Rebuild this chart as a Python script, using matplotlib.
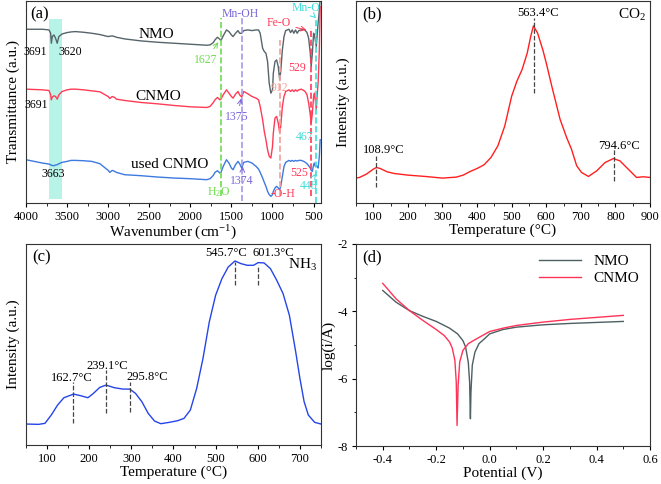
import matplotlib
matplotlib.use('Agg')
from matplotlib import pyplot as plt

plt.rcParams['font.family'] = ['Liberation Serif', 'DejaVu Serif']
plt.rcParams['mathtext.fontset'] = 'stix'
plt.rcParams['axes.unicode_minus'] = False
plt.rcParams['axes.linewidth'] = 0.8

# (a) FTIR, transmittance in a.u.
wn = [4000, 3800, 3720, 3700, 3691, 3680, 3660, 3640, 3620, 3600, 3560, 3500, 3450, 3400,
      3300, 3200, 3100, 3000, 2980, 2950, 2920, 2900, 2800, 2600, 2400, 2200, 2000, 1800,
      1760, 1720, 1700, 1670, 1640, 1627, 1600, 1560, 1530, 1500, 1480, 1450, 1420, 1400,
      1375, 1350, 1300, 1250, 1200, 1170, 1150, 1120, 1100, 1080, 1060, 1040, 1020, 1000,
      990, 970, 950, 930, 912, 900, 880, 860, 840, 800, 780, 760, 740, 720, 700, 680, 650,
      620, 600, 580, 560, 540, 529, 515, 500, 490, 480, 467, 455, 445, 430, 420]
nmo_ir = [522, 522, 520, 510, 480, 500, 505, 495, 480, 500, 508, 512, 514, 515,
          513, 510, 506, 500, 501, 502, 500, 498, 493, 487, 483, 480, 477, 474,
          475, 482, 490, 498, 492, 488, 502, 520, 515, 505, 500, 510, 518, 510,
          510, 518, 520, 518, 520, 520, 510, 465, 455, 450, 425, 360, 330, 340,
          390, 425, 430, 410, 370, 395, 460, 500, 518, 522, 512, 520, 510, 520, 510, 518, 520,
          522, 518, 512, 495, 450, 410, 450, 510, 505, 490, 470, 510, 540, 580, 610]
cnmo_ir = [342, 340, 338, 325, 310, 318, 322, 320, 312, 325, 335, 340, 342, 342,
           340, 337, 334, 320, 314, 320, 317, 312, 308, 302, 298, 293, 289, 287,
           290, 302, 310, 317, 310, 312, 325, 340, 330, 320, 315, 327, 335, 325,
           318, 335, 328, 320, 315, 310, 290, 250, 215, 190, 160, 140, 135, 170,
           210, 255, 260, 240, 210, 230, 290, 320, 335, 340, 335, 340, 335, 340, 336, 340, 342,
           338, 334, 325, 300, 265, 240, 270, 320, 330, 310, 280, 330, 360, 460, 590]
used_ir = [130, 120, 117, 115, 113, 113, 112, 114, 115, 118, 122, 125, 128, 128,
           127, 125, 118, 98, 92, 98, 95, 92, 85, 82, 78, 75, 73, 70,
           73, 83, 92, 97, 90, 92, 110, 130, 120, 105, 100, 115, 125, 118,
           105, 122, 125, 120, 110, 102, 92, 75, 62, 50, 35, 25, 20, 25,
           35, 45, 50, 45, 40, 50, 80, 110, 122, 128, 125, 128, 125, 128, 126, 128, 128,
           125, 122, 118, 112, 105, 98, 95, 115, 120, 110, 112, 110, 105, 140, 190]

# (b) CO2-TPD
t_co2 = [50, 60, 80, 100, 109, 120, 140, 160, 200, 250, 300, 340, 360, 380, 400, 420, 440,
         460, 480, 500, 515, 530, 545, 555, 563, 575, 590, 600, 616, 640, 659, 673, 688,
         702, 722, 746, 770, 794, 813, 837, 861, 880, 900]
i_co2 = [75, 77, 87, 102, 107, 104, 94, 89, 84, 80, 75, 78, 84, 95, 104, 115, 137,
         172, 232, 322, 367, 402, 452, 502, 534, 512, 462, 422, 352, 252, 197, 162, 112,
         92, 80, 97, 122, 134, 127, 102, 77, 79, 77]

# (c) NH3-TPD
t_nh3 = [50, 80, 95, 110, 125, 140, 163, 180, 197, 210, 225, 240, 260, 280, 296, 310, 325,
         340, 355, 370, 390, 410, 425, 440, 455, 470, 485, 500, 515, 530, 546, 560, 575,
         590, 601, 615, 630, 645, 660, 675, 690, 700, 710, 720, 735, 750]
i_nh3 = [63, 62, 65, 90, 120, 142, 153, 148, 142, 155, 173, 180, 172, 168, 168, 155, 130,
         95, 72, 64, 68, 73, 80, 105, 170, 260, 370, 450, 500, 535, 553, 545, 540,
         540, 548, 547, 530, 495, 455, 390, 280, 200, 130, 90, 68, 63]

# (d) Tafel
v_nmo = [-0.4, -0.35, -0.3, -0.25, -0.2, -0.15, -0.12, -0.1, -0.09, -0.08, -0.075, -0.072,
         -0.07, -0.065, -0.055, -0.04, -0.02, 0.0, 0.05, 0.1, 0.2, 0.3, 0.4, 0.5]
log_nmo = [-3.38, -3.73, -3.98, -4.15, -4.30, -4.50, -4.67, -4.87, -5.06, -5.51, -6.10, -7.19,
           -6.40, -5.60, -5.21, -4.96, -4.82, -4.67, -4.54, -4.47, -4.40, -4.36, -4.33, -4.30]
v_cnmo = [-0.4, -0.35, -0.3, -0.25, -0.2, -0.17, -0.15, -0.14, -0.13, -0.125, -0.122, -0.118,
          -0.112, -0.1, -0.08, -0.05, 0.0, 0.05, 0.1, 0.2, 0.3, 0.4, 0.5]
log_cnmo = [-3.17, -3.63, -3.98, -4.27, -4.54, -4.72, -4.91, -5.09, -5.46, -6.10, -7.39, -6.20,
            -5.50, -5.16, -4.96, -4.82, -4.60, -4.50, -4.42, -4.32, -4.24, -4.18, -4.12]

green = '#6fdc4f'
purple = '#7b68d8'
red = '#ff3a5a'
pink = '#f4a09a'
cyan = '#40dcd8'
dash_gray = '#444444'

fig = plt.figure(figsize=(6.61, 4.84), dpi=100)
ax_a = fig.add_axes([0.0393, 0.5806, 0.4463, 0.4174])
ax_b = fig.add_axes([0.5386, 0.5806, 0.4448, 0.4174])
ax_c = fig.add_axes([0.0393, 0.0806, 0.4463, 0.4153])
ax_d = fig.add_axes([0.5386, 0.0785, 0.4448, 0.4174])

for ax in [ax_a, ax_b, ax_c, ax_d]:
    ax.tick_params(direction='out', length=3, width=0.8, labelsize=9, pad=3)
    ax.tick_params(which='minor', direction='out', length=1.8, width=0.6)
    for s in ax.spines.values():
        s.set_color('#333333')

# ---- (a)
ax_a.axvspan(3720, 3560, ymin=12/607, ymax=552/607, color='#b8f3e8', lw=0)
ax_a.plot(wn, nmo_ir, color='#56656a', lw=1)
ax_a.plot(wn, cnmo_ir, color='#ff3b56', lw=1)
ax_a.plot(wn, used_ir, color='#3d7ae0', lw=1)
ax_a.vlines(1627, 20, 555, colors=green, linestyles='--', lw=1.2)
ax_a.vlines(1375, 5, 555, colors='#a898e6', linestyles='--', lw=1.2)
ax_a.vlines(912, 20, 490, colors=pink, linestyles='--', lw=1.2)
ax_a.vlines(529, 20, 525, colors=red, linestyles='--', lw=1.2)
ax_a.vlines(467, 0, 555, colors=cyan, linestyles='--', lw=1.2)
ax_a.set_xlim(4000, 410)
ax_a.set_ylim(0, 607)
ax_a.set_xticks([4000, 3500, 3000, 2500, 2000, 1500, 1000, 500])
ax_a.set_xticks(range(3750, 400, -500), minor=True)
ax_a.set_yticks([])
ax_a.set_xlabel('Wavenumber (cm$\\mathregular{^{-1}}$)', fontsize=11, labelpad=0)
ax_a.set_ylabel('Transmittance (a.u.)', fontsize=11, labelpad=4)
ax_a.text(0.015, 0.935, '(a)', transform=ax_a.transAxes, fontsize=12, va='center')
fs = 8.5
ax_a.text(3890, 455, '3691', fontsize=fs, ha='center', va='center')
ax_a.text(3465, 455, '3620', fontsize=fs, ha='center', va='center')
ax_a.text(3870, 295, '3691', fontsize=fs, ha='center', va='center')
ax_a.text(3667, 87, '3663', fontsize=fs, ha='center', va='center')
ax_a.text(2410, 505, 'NMO', fontsize=11, ha='center', va='center')
ax_a.text(2390, 320, 'CNMO', fontsize=11, ha='center', va='center')
ax_a.text(2248, 115, 'used CNMO', fontsize=11, ha='center', va='center')
ax_a.annotate('1627', xy=(1640, 490), xytext=(1810, 430), fontsize=fs, color=green,
              ha='center', va='center', arrowprops=dict(arrowstyle='->', color=green, lw=0.7))
ax_a.text(1389, 567, 'Mn-OH', fontsize=fs, color=purple, ha='center', va='center')
ax_a.annotate('1375', xy=(1375, 322), xytext=(1430, 258), fontsize=fs, color=purple,
              ha='center', va='center', arrowprops=dict(arrowstyle='->', color=purple, lw=0.7))
ax_a.annotate('1374', xy=(1360, 118), xytext=(1376, 65), fontsize=fs, color=purple,
              ha='center', va='center', arrowprops=dict(arrowstyle='->', color=purple, lw=0.7))
ax_a.annotate('Fe-O', xy=(555, 518), xytext=(930, 540), fontsize=fs, color=red,
              ha='center', va='center', arrowprops=dict(arrowstyle='->', color=red, lw=0.7))
ax_a.annotate('Mn-O', xy=(470, 555), xytext=(594, 585), fontsize=fs, color=cyan,
              ha='center', va='center', arrowprops=dict(arrowstyle='->', color=cyan, lw=0.7))
ax_a.text(695, 405, '529', fontsize=fs, color=red, ha='center', va='center')
ax_a.text(910, 345, '912', fontsize=fs, color=pink, ha='center', va='center')
ax_a.text(606, 198, '467', fontsize=fs, color=cyan, ha='center', va='center')
ax_a.text(675, 90, '525', fontsize=fs, color=red, ha='center', va='center')
ax_a.annotate('448', xy=(455, 95), xytext=(565, 52), fontsize=fs, color=cyan,
              ha='center', va='center', arrowprops=dict(arrowstyle='->', color=cyan, lw=0.7))
ax_a.text(1660, 32, 'H$\\mathregular{_2}$O', fontsize=fs, color=green, ha='center', va='center')
ax_a.text(870, 27, '-O-H', fontsize=fs, color=red, ha='center', va='center')

# ---- (b)
ax_b.plot(t_co2, i_co2, color='#ff1f1f', lw=1)
ax_b.vlines([563.4], 332, 557, colors=dash_gray, linestyles='--', lw=0.9)
ax_b.vlines([108.9], 47, 142, colors=dash_gray, linestyles='--', lw=0.9)
ax_b.vlines([794.6], 67, 162, colors=dash_gray, linestyles='--', lw=0.9)
ax_b.text(575, 572, '563.4°C', fontsize=9, ha='center', va='center')
ax_b.text(130, 160, '108.9°C', fontsize=9, ha='center', va='center')
ax_b.text(809, 172, '794.6°C', fontsize=9, ha='center', va='center')
ax_b.text(847, 567, 'CO$\\mathregular{_2}$', fontsize=11, ha='center', va='center')
ax_b.text(0.02, 0.935, '(b)', transform=ax_b.transAxes, fontsize=12, va='center')
ax_b.set_xlim(50, 900)
ax_b.set_ylim(0, 609)
ax_b.set_xticks(range(100, 901, 100))
ax_b.set_xticks(range(50, 900, 100), minor=True)
ax_b.set_yticks([])
ax_b.set_xlabel('Temperature (°C)', fontsize=11, labelpad=0)
ax_b.set_ylabel('Intensity (a.u.)', fontsize=11, labelpad=4)

# ---- (c)
ax_c.plot(t_nh3, i_nh3, color='#2545e8', lw=1)
ax_c.vlines([162.7], 65, 190, colors=dash_gray, linestyles='--', lw=0.9)
ax_c.vlines([239.1], 95, 225, colors=dash_gray, linestyles='--', lw=0.9)
ax_c.vlines([295.8], 100, 190, colors=dash_gray, linestyles='--', lw=0.9)
ax_c.vlines([545.7], 482, 550, colors=dash_gray, linestyles='--', lw=0.9)
ax_c.vlines([601.3], 482, 540, colors=dash_gray, linestyles='--', lw=0.9)
ax_c.text(159, 202, '162.7°C', fontsize=9, ha='center', va='center')
ax_c.text(244, 237, '239.1°C', fontsize=9, ha='center', va='center')
ax_c.text(337, 205, '295.8°C', fontsize=9, ha='center', va='center')
ax_c.text(525, 577, '545.7°C', fontsize=9, ha='center', va='center')
ax_c.text(637, 577, '601.3°C', fontsize=9, ha='center', va='center')
ax_c.text(706, 542, 'NH$\\mathregular{_3}$', fontsize=11, ha='center', va='center')
ax_c.text(0.02, 0.935, '(c)', transform=ax_c.transAxes, fontsize=12, va='center')
ax_c.set_xlim(50, 750)
ax_c.set_ylim(0, 604)
ax_c.set_xticks(range(100, 701, 100))
ax_c.set_xticks(range(50, 751, 100), minor=True)
ax_c.set_yticks([])
ax_c.set_xlabel('Temperature (°C)', fontsize=11, labelpad=0)
ax_c.set_ylabel('Intensity (a.u.)', fontsize=11, labelpad=4)

# ---- (d)
ax_d.plot(v_nmo, log_nmo, color='#4d5f62', lw=1, label='NMO')
ax_d.plot(v_cnmo, log_cnmo, color='#ff3358', lw=1, label='CNMO')
ax_d.set_xlim(-0.5, 0.6)
ax_d.set_ylim(-8, -2)
ax_d.set_xticks([-0.4, -0.2, 0.0, 0.2, 0.4, 0.6])
ax_d.set_xticklabels(['-0.4', '-0.2', '0.0', '0.2', '0.4', '0.6'])
ax_d.set_xticks([-0.5, -0.3, -0.1, 0.1, 0.3, 0.5], minor=True)
ax_d.set_yticks([-8, -6, -4, -2])
ax_d.set_yticks([-7, -5, -3], minor=True)
ax_d.set_xlabel('Potential (V)', fontsize=11, labelpad=0)
ax_d.set_ylabel('log(i/A)', fontsize=11, labelpad=1)
ax_d.text(0.02, 0.935, '(d)', transform=ax_d.transAxes, fontsize=12, va='center')
ax_d.legend(loc='upper right', frameon=False, fontsize=11, handlelength=2.8,
            borderaxespad=0.3, labelspacing=0.2)

fig.savefig('out.png', dpi=100)
